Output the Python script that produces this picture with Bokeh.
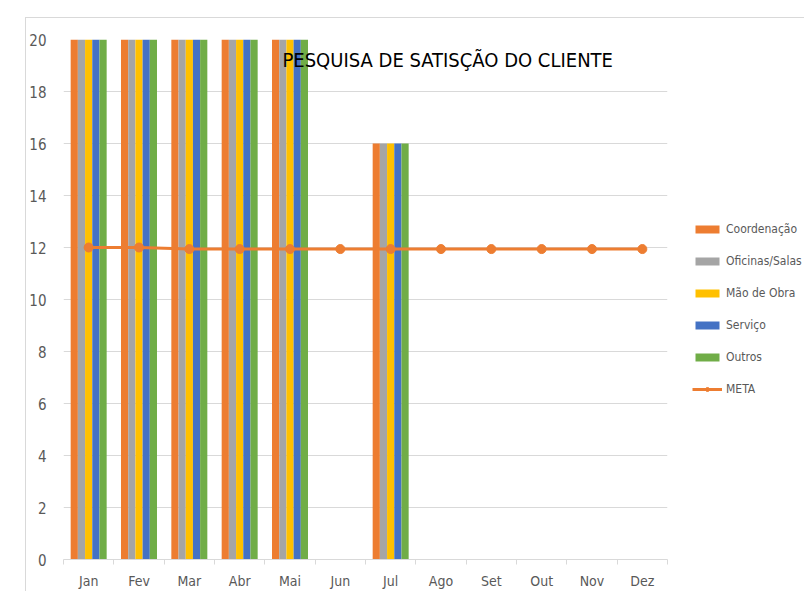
from bokeh.plotting import figure
from bokeh.models import FixedTicker, Legend, LegendItem, Label, Range1d
from bokeh.embed import file_html
from bokeh.resources import INLINE

months = ["Jan", "Fev", "Mar", "Abr", "Mai", "Jun", "Jul", "Ago", "Set", "Out", "Nov", "Dez"]
series_names = ["Coordenação", "Oficinas/Salas", "Mão de Obra", "Serviço", "Outros"]
coordenacao = [20, 20, 20, 20, 20, 0, 16, 0, 0, 0, 0, 0]
oficinas = [20, 20, 20, 20, 20, 0, 16, 0, 0, 0, 0, 0]
mao_de_obra = [20, 20, 20, 20, 20, 0, 16, 0, 0, 0, 0, 0]
servico = [20, 20, 20, 20, 20, 0, 16, 0, 0, 0, 0, 0]
outros = [20, 20, 20, 20, 20, 0, 16, 0, 0, 0, 0, 0]
meta = [12, 12, 11.94, 11.94, 11.94, 11.94, 11.94, 11.94, 11.94, 11.94, 11.94, 11.94]
y_ticks = [0, 2, 4, 6, 8, 10, 12, 14, 16, 18, 20]
title_text = "PESQUISA DE SATISÇÃO DO CLIENTE"

colors = ["#ED7D31", "#A5A5A5", "#FFC000", "#4472C4", "#70AD47"]
series = [coordenacao, oficinas, mao_de_obra, servico, outros]

FONT = "DejaVu Sans Condensed, Liberation Sans"
TXT = "#595959"
GRID = "#D9D9D9"

centers = [i + 0.5 for i in range(len(months))]

p = figure(frame_width=604, frame_height=520, output_backend="svg", toolbar_location=None,
           x_range=Range1d(0, 12), y_range=Range1d(0, 20),
           min_border_left=37, min_border_top=21, min_border_bottom=30,
           min_border_right=10)
p.margin = (17, 0, 0, 25)
p.styles = {"border-left": "1px solid #D9D9D9", "border-top": "1px solid #D9D9D9"}
p.outline_line_color = None
p.background_fill_color = "white"
p.border_fill_color = "white"

bw = 0.143
items = []
for k, (name, vals, c) in enumerate(zip(series_names, series, colors)):
    xs = [x + (k - 2) * bw for x in centers]
    r = p.vbar(x=xs, top=vals, bottom=0, width=bw, fill_color=c, line_color=None)
    items.append(LegendItem(label=name, renderers=[r]))

ln = p.line(centers, meta, line_color="#ED7D31", line_width=3)
sc = p.scatter(centers, meta, size=9, fill_color="#ED7D31", line_color="#ED7D31")
items.append(LegendItem(label="META", renderers=[ln, sc]))

# axes
p.xgrid.visible = False
p.ygrid.grid_line_color = GRID
p.ygrid.ticker = FixedTicker(ticks=y_ticks)

p.yaxis.ticker = FixedTicker(ticks=y_ticks)
p.yaxis.axis_line_color = None
p.yaxis.major_tick_line_color = None
p.yaxis.minor_tick_line_color = None
p.yaxis.major_label_text_font = FONT
p.yaxis.major_label_text_font_size = "15px"
p.yaxis.major_label_text_color = TXT
p.yaxis.major_label_standoff = 11

p.xaxis.ticker = FixedTicker(ticks=centers, minor_ticks=list(range(13)))
p.xaxis.major_label_overrides = {c: m for c, m in zip(centers, months)}
p.xaxis.axis_line_color = GRID
p.xaxis.major_tick_line_color = None
p.xaxis.major_tick_out = 0
p.xaxis.major_tick_in = 0
p.xaxis.minor_tick_line_color = GRID
p.xaxis.minor_tick_out = 5
p.xaxis.minor_tick_in = 0
p.xaxis.major_label_text_font = FONT
p.xaxis.major_label_text_font_size = "14px"
p.xaxis.major_label_text_color = TXT
p.xaxis.major_label_standoff = 8

legend = Legend(items=items, location=(25, 160), padding=0, margin=0,
                glyph_width=30, glyph_height=10, label_height=20, spacing=12,
                label_standoff=4, label_text_font=FONT, label_text_font_size="12px",
                label_text_color=TXT, border_line_color=None, background_fill_alpha=0)
p.add_layout(legend, "right")

title = Label(x=4.35, y=19.22, text=title_text, text_font=FONT, text_font_size="20px",
              text_color="black", text_baseline="middle", text_align="left", level="overlay")
p.add_layout(title)

open("out.html", "w").write(file_html(p, INLINE))
